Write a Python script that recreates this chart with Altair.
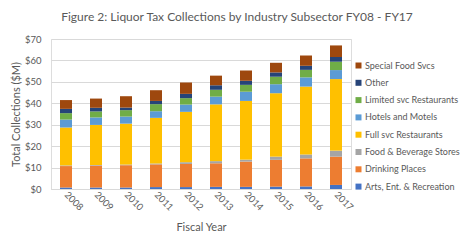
import altair as alt
import pandas as pd

years = ["2008", "2009", "2010", "2011", "2012", "2013", "2014", "2015", "2016", "2017"]
categories = ["Arts, Ent. & Recreation", "Drinking Places", "Food & Beverage Stores",
              "Full svc Restaurants", "Hotels and Motels", "Limited svc Restaurants",
              "Other", "Special Food Svcs"]
colors = ["#4472C4", "#ED7D31", "#A5A5A5", "#FFC000", "#5B9BD5", "#70AD47", "#264478", "#9E480E"]

arts      = [0.7, 0.7, 0.7, 0.9, 0.9, 1.0, 1.0, 1.1, 1.2, 1.9]
drinking  = [10.0, 10.2, 10.4, 10.6, 10.8, 11.0, 11.8, 12.5, 13.1, 13.2]
food_bev  = [0.3, 0.3, 0.3, 0.4, 0.8, 1.0, 0.9, 1.5, 1.8, 2.8]
full_svc  = [17.7, 18.7, 19.1, 21.3, 23.5, 26.5, 27.4, 29.6, 31.7, 33.4]
hotels    = [3.7, 3.5, 3.3, 3.1, 3.4, 3.6, 4.3, 4.2, 4.3, 4.2]
limited   = [3.0, 2.8, 3.0, 3.3, 3.0, 3.2, 3.2, 3.5, 3.5, 3.9]
other     = [2.0, 1.7, 1.2, 1.5, 2.0, 2.1, 1.9, 2.0, 1.9, 2.2]
special   = [4.1, 4.3, 5.3, 5.0, 5.3, 4.5, 4.8, 4.5, 4.8, 5.4]

series = [arts, drinking, food_bev, full_svc, hotels, limited, other, special]

rows = []
for ci, (cat, vals) in enumerate(zip(categories, series)):
    for y, v in zip(years, vals):
        rows.append({"year": y, "category": cat, "value": v, "idx": ci})
df = pd.DataFrame(rows)

FONT = "Lato"
GREY = "#595959"

chart = alt.Chart(df).mark_bar().encode(
    x=alt.X("year:N", title="Fiscal Year",
            scale=alt.Scale(paddingInner=0.6, paddingOuter=0.3),
            axis=alt.Axis(labelAngle=45, labelAlign="left", labelBaseline="middle",
                          labelFontSize=9.5, labelColor=GREY, labelFont=FONT,
                          titleFont=FONT, titleFontSize=11, titleColor=GREY,
                          titleFontWeight="normal", titlePadding=10,
                          ticks=False, domainColor="#D9D9D9", labelPadding=4)),
    y=alt.Y("value:Q", title="Total Collections ($M)",
            scale=alt.Scale(domain=[0, 70], nice=False),
            axis=alt.Axis(values=[0, 10, 20, 30, 40, 50, 60, 70],
                          labelExpr="'$' + datum.value",
                          labelFontSize=9.5, labelColor=GREY, labelFont=FONT,
                          titleFont=FONT, titleFontSize=11, titleColor=GREY,
                          titleFontWeight="normal", titlePadding=3,
                          ticks=False, domain=False, gridColor="#D9D9D9", labelPadding=10)),
    color=alt.Color("category:N",
                    scale=alt.Scale(domain=categories[::-1], range=colors[::-1]),
                    legend=alt.Legend(title=None, orient="none", legendX=303, legendY=22,
                                      symbolType="square", symbolSize=36,
                                      symbolStrokeWidth=0,
                                      labelFont=FONT, labelFontSize=9,
                                      labelColor=GREY, rowPadding=7.3, labelOffset=2)),
    order=alt.Order("idx:Q", sort="ascending"),
).properties(
    width=300, height=150,
    autosize=alt.AutoSizeParams(type="none"),
    padding={"left": 43, "top": 31, "right": 115, "bottom": 52},
    title=alt.Title("Figure 2: Liquor Tax Collections by Industry Subsector FY08 - FY17",
                    font=FONT, fontSize=12, fontWeight="normal", color=GREY,
                    anchor="middle", dx=36, offset=10),
).configure_view(stroke=None).configure(background="white")

chart.save("out.html", embed_options={"renderer": "svg", "actions": False})
